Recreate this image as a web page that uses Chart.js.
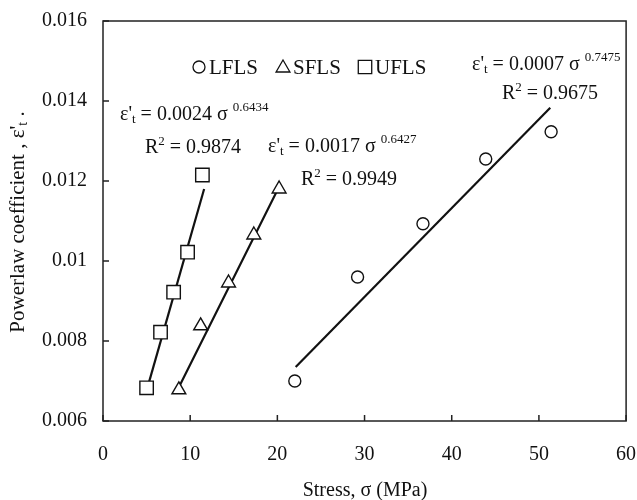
<!DOCTYPE html>
<html>
<head>
<meta charset="utf-8">
<script src="https://cdn.jsdelivr.net/npm/chart.js@4.4.0/dist/chart.umd.min.js"></script>
<style>
  body { margin: 0; background: #fff; }
  canvas { display: block; }
</style>
</head>
<body>
<canvas id="chart" width="637" height="500"></canvas>
<script>
// --- data ---
const seriesNames = ['LFLS', 'SFLS', 'UFLS'];

const lflsStress = [22.0, 29.2, 36.7, 43.9, 51.4];
const lflsCoef   = [0.0070, 0.0096, 0.01093, 0.01255, 0.01323];

const sflsStress = [8.7, 11.2, 14.4, 17.3, 20.2];
const sflsCoef   = [0.00678, 0.00838, 0.00945, 0.01065, 0.0118];

const uflsStress = [5.0, 6.6, 8.1, 9.7, 11.4];
const uflsCoef   = [0.00683, 0.00822, 0.00922, 0.01022, 0.01215];

// fitted trend lines (end points as drawn)
const lflsFitX = [22.1, 51.3];
const lflsFitY = [0.00735, 0.01383];
const sflsFitX = [8.6, 20.3];
const sflsFitY = [0.0068, 0.0119];
const uflsFitX = [5.0, 11.6];
const uflsFitY = [0.00676, 0.0118];

const xTicks = [0, 10, 20, 30, 40, 50, 60];
const yTicks = [0.006, 0.008, 0.01, 0.012, 0.014, 0.016];

const FONT = '"Liberation Serif", "Times New Roman", serif';

function pts(xs, ys) {
    return xs.map((x, i) => ({ x: x, y: ys[i] }));
}

function markerSet(label, xs, ys, style, radius) {
    return {
        label: label,
        data: pts(xs, ys),
        showLine: false,
        pointStyle: style,
        pointRadius: radius,
        pointBorderColor: '#111',
        pointBackgroundColor: '#fff',
        pointBorderWidth: 1.4,
        order: 0
    };
}

function fitSet(xs, ys) {
    return {
        data: pts(xs, ys),
        showLine: true,
        borderColor: '#111',
        borderWidth: 2.2,
        pointRadius: 0,
        order: 1
    };
}

// draw a run of text pieces: [text, size, dy]
function richText(ctx, x, y, parts) {
    let cx = x;
    parts.forEach(p => {
        ctx.font = p[1] + 'px ' + FONT;
        ctx.fillText(p[0], cx, y + (p[2] || 0));
        cx += ctx.measureText(p[0]).width;
    });
}

function equation(ctx, x, y, coef, expo) {
    richText(ctx, x, y, [
        ["ε'", 20, 0], ['t', 13, 5], [' = ' + coef + ' σ ', 20, 0], [expo, 13, -7]
    ]);
}

function rSquared(ctx, x, y, val) {
    richText(ctx, x, y, [['R', 20, 0], ['2', 13, -6], [' = ' + val, 20, 0]]);
}

const decorPlugin = {
    id: 'decor',
    afterDraw(chart) {
        const ctx = chart.ctx;
        const a = chart.chartArea;
        const xs = chart.scales.x, ys = chart.scales.y;
        ctx.save();
        ctx.strokeStyle = '#222';
        ctx.lineWidth = 1.5;
        ctx.strokeRect(a.left, a.top, a.right - a.left, a.bottom - a.top);

        // inward tick marks
        ctx.beginPath();
        xTicks.forEach(v => {
            const px = xs.getPixelForValue(v);
            ctx.moveTo(px, a.bottom);
            ctx.lineTo(px, a.bottom - 6);
        });
        yTicks.forEach(v => {
            const py = ys.getPixelForValue(v);
            ctx.moveTo(a.left, py);
            ctx.lineTo(a.left + 6, py);
        });
        ctx.stroke();

        ctx.textBaseline = 'middle';
        ctx.textAlign = 'left';

        // legend inside plot
        const legY = 67;
        const styles = ['circle', 'triangle', 'rect'];
        const radii = [6, 8, 9.5];
        const legX = [199, 283, 365];
        ctx.lineWidth = 1.3;
        seriesNames.forEach((name, i) => {
            ctx.fillStyle = '#fff';
            ctx.strokeStyle = '#111';
            Chart.helpers.drawPoint(ctx, {
                pointStyle: styles[i], radius: radii[i], borderWidth: 1.3
            }, legX[i], legY + (i === 1 ? 1 : 0));
            ctx.fillStyle = '#111';
            ctx.font = '21px ' + FONT;
            ctx.fillText(name, legX[i] + 10, legY + 1);
        });

        // fitted equations
        ctx.fillStyle = '#111';
        equation(ctx, 120, 115, '0.0024', '0.6434');
        rSquared(ctx, 145, 148, '0.9874');
        equation(ctx, 268, 147, '0.0017', '0.6427');
        rSquared(ctx, 301, 180, '0.9949');
        equation(ctx, 472, 65, '0.0007', '0.7475');
        rSquared(ctx, 502, 94, '0.9675');

        // axis titles
        ctx.textAlign = 'center';
        ctx.font = '20px ' + FONT;
        ctx.fillText('Stress, σ (MPa)', 365, 491);

        ctx.translate(18, 222);
        ctx.rotate(-Math.PI / 2);
        ctx.textAlign = 'left';
        const t1 = "Powerlaw coefficient , ε'";
        ctx.font = '21px ' + FONT;
        const w1 = ctx.measureText(t1).width;
        ctx.font = '14px ' + FONT;
        const w2 = ctx.measureText('t').width;
        ctx.font = '21px ' + FONT;
        const w3 = ctx.measureText(' .').width;
        richText(ctx, -(w1 + w2 + w3) / 2, 0, [[t1, 21, 0], ['t', 14, 5], [' .', 21, 0]]);
        ctx.restore();
    }
};

new Chart(document.getElementById('chart'), {
    type: 'scatter',
    data: {
        datasets: [
            markerSet('LFLS', lflsStress, lflsCoef, 'circle', 6),
            markerSet('SFLS', sflsStress, sflsCoef, 'triangle', 8),
            markerSet('UFLS', uflsStress, uflsCoef, 'rect', 9.5),
            fitSet(lflsFitX, lflsFitY),
            fitSet(sflsFitX, sflsFitY),
            fitSet(uflsFitX, uflsFitY)
        ]
    },
    options: {
        responsive: false,
        animation: false,
        layout: { padding: { left: 0, right: 10, top: 21, bottom: 0 } },
        plugins: {
            legend: { display: false },
            tooltip: { enabled: false }
        },
        scales: {
            x: {
                type: 'linear',
                min: 0, max: 60,
                afterFit: s => { s.height = 79; s.paddingLeft = 0; s.paddingRight = 0; },
                afterBuildTicks: s => { s.ticks = xTicks.map(v => ({ value: v })); },
                grid: { display: false, drawTicks: false },
                border: { display: false },
                ticks: {
                    padding: 22,
                    color: '#111',
                    font: { family: FONT, size: 20 },
                    callback: v => String(v)
                }
            },
            y: {
                type: 'linear',
                min: 0.006, max: 0.016,
                afterFit: s => { s.width = 103; s.paddingTop = 0; s.paddingBottom = 0; },
                afterBuildTicks: s => { s.ticks = yTicks.map(v => ({ value: v })); },
                grid: { display: false, drawTicks: false },
                border: { display: false },
                ticks: {
                    padding: 16,
                    color: '#111',
                    font: { family: FONT, size: 20 },
                    callback: v => String(Number(v.toFixed(3)))
                }
            }
        }
    },
    plugins: [decorPlugin]
});
</script>
</body>
</html>
